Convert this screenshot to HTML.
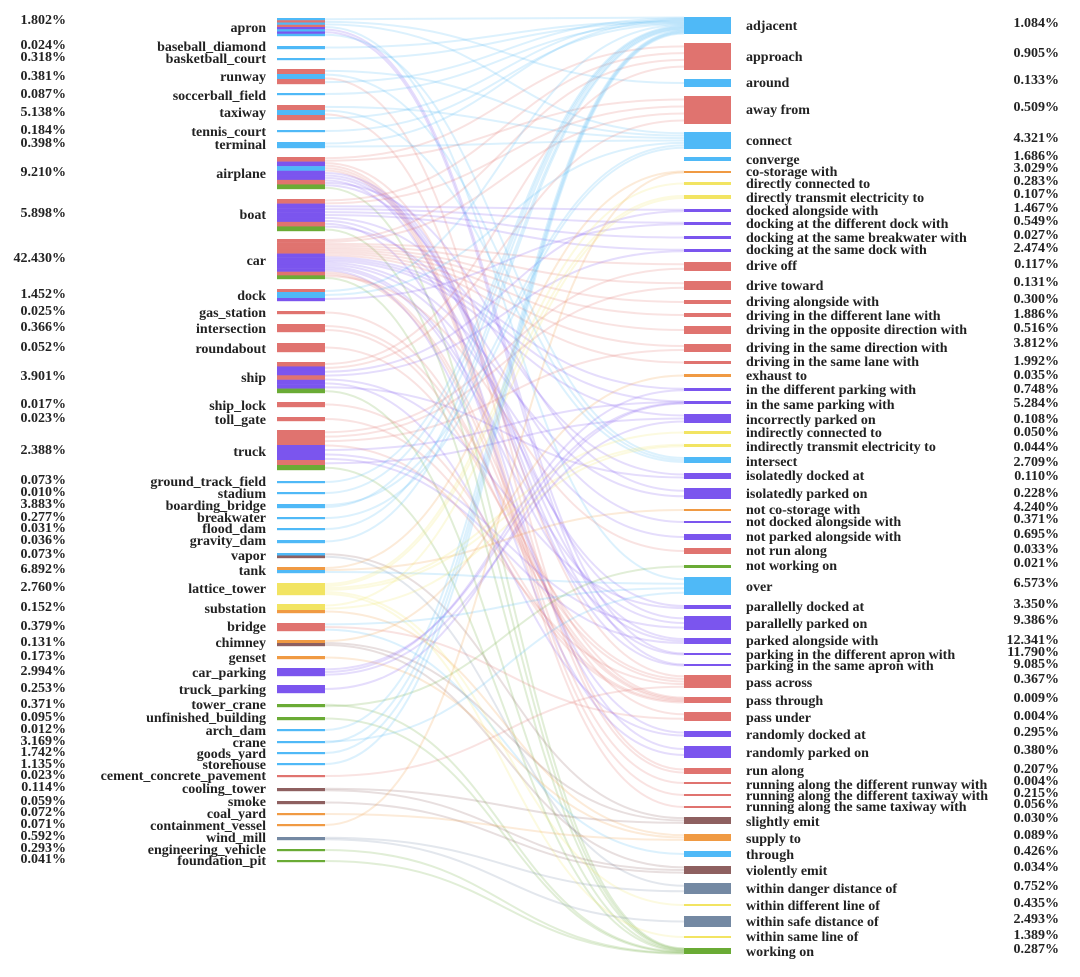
<!DOCTYPE html>
<html><head><meta charset="utf-8"><style>
html,body{margin:0;padding:0;background:#fff;}
svg text{font-family:"Liberation Serif",serif;font-weight:bold;font-size:14px;fill:#222;}
</style></head><body>
<svg id="chart" width="1080" height="972" viewBox="0 0 1080 972">
<g id="links"></g>
<g id="nodes"></g>
</svg>
<script>
const leftNames=["apron","baseball_diamond","basketball_court","runway","soccerball_field","taxiway","tennis_court","terminal","airplane","boat","car","dock","gas_station","intersection","roundabout","ship","ship_lock","toll_gate","truck","ground_track_field","stadium","boarding_bridge","breakwater","flood_dam","gravity_dam","vapor","tank","lattice_tower","substation","bridge","chimney","genset","car_parking","truck_parking","tower_crane","unfinished_building","arch_dam","crane","goods_yard","storehouse","cement_concrete_pavement","cooling_tower","smoke","coal_yard","containment_vessel","wind_mill","engineering_vehicle","foundation_pit"];
const leftPct=["1.802%","0.024%","0.318%","0.381%","0.087%","5.138%","0.184%","0.398%","9.210%","5.898%","42.430%","1.452%","0.025%","0.366%","0.052%","3.901%","0.017%","0.023%","2.388%","0.073%","0.010%","3.883%","0.277%","0.031%","0.036%","0.073%","6.892%","2.760%","0.152%","0.379%","0.131%","0.173%","2.994%","0.253%","0.371%","0.095%","0.012%","3.169%","1.742%","1.135%","0.023%","0.114%","0.059%","0.072%","0.071%","0.592%","0.293%","0.041%"];
const leftTop=[18,46,58,69,93,105,130,142,157,199,239,289,311,324,343,362,402,417,430,481,492,504,517,528,540,553,567,583,604,623,640,656,668,685,704,717,729,741,752,763,775,788,801,813,824,837,849,860];
const leftH=[18,3,2,15,2,15,2,6,32,32,40,12,3,8,9,31,5,4,40,2,2,4,2,2,3,5,6,12,9,8,6,3,8,8,3,3,2,2,2,2,2,3,3,2,2,3,2,2];
const leftLabelY=[28,47,59,77,96,113,132,145,174,215,261,296,313,329,349,378,406,420,452,482,494,506,518,529,541,556,571,589,609,627,643,658,673,690,705,718,731,743,754,765,776,789,802,814,826,838,850,861];
const leftPctY=[20,45,57,76,94,112,130,143,172,213,258,294,311,327,347,376,404,418,450,480,492,504,517,528,540,554,569,587,607,626,642,656,671,688,704,717,729,741,752,764,775,787,801,812,824,836,848,859];
const leftColors=["brbrpbpb","b","b","rbr","b","rbr","b","b","rpbpprg","rpppprg","rrrrppppprg","rbbp","r","r","r","rpprppg","r","r","rrrppprg","b","b","b","b","b","b","bn","ob","y","yyo","r","on","o","p","p","g","g","b","b","b","b","r","n","n","o","o","s","g","g"];
const rightNames=["adjacent","approach","around","away from","connect","converge","co-storage with","directly connected to","directly transmit electricity to","docked alongside with","docking at the different dock with","docking at the same breakwater with","docking at the same dock with","drive off","drive toward","driving alongside with","driving in the different lane with","driving in the opposite direction with","driving in the same direction with","driving in the same lane with","exhaust to","in the different parking with","in the same parking with","incorrectly parked on","indirectly connected to","indirectly transmit electricity to","intersect","isolatedly docked at","isolatedly parked on","not co-storage with","not docked alongside with","not parked alongside with","not run along","not working on","over","parallelly docked at","parallelly parked on","parked alongside with","parking in the different apron with","parking in the same apron with","pass across","pass through","pass under","randomly docked at","randomly parked on","run along","running along the different runway with","running along the different taxiway with","running along the same taxiway with","slightly emit","supply to","through","violently emit","within danger distance of","within different line of","within safe distance of","within same line of","working on"];
const rightPct=["1.084%","0.905%","0.133%","0.509%","4.321%","1.686%","3.029%","0.283%","0.107%","1.467%","0.549%","0.027%","2.474%","0.117%","0.131%","0.300%","1.886%","0.516%","3.812%","1.992%","0.035%","0.748%","5.284%","0.108%","0.050%","0.044%","2.709%","0.110%","0.228%","4.240%","0.371%","0.695%","0.033%","0.021%","6.573%","3.350%","9.386%","12.341%","11.790%","9.085%","0.367%","0.009%","0.004%","0.295%","0.380%","0.207%","0.004%","0.215%","0.056%","0.030%","0.089%","0.426%","0.034%","0.752%","0.435%","2.493%","1.389%","0.287%"];
const rightTop=[17,43,79,96,132,157,171,182,195,209,222,236,249,262,281,300,313,326,344,361,374,388,401,414,431,444,457,473,488,509,521,534,548,565,577,605,616,638,653,664,675,697,712,731,746,768,782,794,806,817,834,851,866,883,904,916,936,948];
const rightH=[17,27,8,28,17,4,2,3,4,3,3,3,3,9,9,4,4,8,8,3,3,3,3,9,3,3,6,6,11,2,2,6,6,3,18,4,14,6,2,2,13,6,9,6,12,6,2,2,2,7,7,6,8,11,2,11,2,6];
const rightLabelY=[26,57,83,110,141,160,172,184,198,211,224,238,250,266,286,302,316,330,348,362,376,390,405,420,433,447,462,476,494,510,522,537,551,566,587,607,624,641,655,666,683,701,718,735,753,771,785,796,807,822,839,855,871,889,906,922,937,952];
const rightPctY=[23,53,80,107,138,156,168,181,194,208,221,235,248,264,282,299,314,328,343,361,375,389,403,419,432,447,462,476,493,507,519,534,549,563,583,604,620,640,652,664,679,698,716,732,750,769,781,793,804,818,835,851,867,886,903,919,935,949];
const rightColors=["b","r","b","r","b","b","o","y","y","p","p","p","p","r","r","r","r","r","r","r","o","p","p","p","y","y","b","p","p","o","p","p","r","g","b","p","p","p","p","p","r","r","r","p","p","r","r","r","r","n","o","b","n","s","y","s","y","g"];
const links=[["apron","adjacent"],["apron","around"],["apron","connect"],["apron","over"],["apron","parking in the different apron with"],["apron","parking in the same apron with"],["apron","intersect"],["runway","connect"],["runway","intersect"],["runway","run along"],["runway","adjacent"],["taxiway","connect"],["taxiway","intersect"],["taxiway","run along"],["taxiway","adjacent"],["terminal","adjacent"],["terminal","connect"],["baseball_diamond","adjacent"],["basketball_court","adjacent"],["soccerball_field","adjacent"],["tennis_court","adjacent"],["airplane","approach"],["airplane","away from"],["airplane","pass across"],["airplane","running along the different runway with"],["airplane","running along the different taxiway with"],["airplane","running along the same taxiway with"],["airplane","parked alongside with"],["airplane","parking in the different apron with"],["airplane","parking in the same apron with"],["airplane","randomly parked on"],["airplane","isolatedly parked on"],["airplane","parallelly parked on"],["airplane","working on"],["boat","approach"],["boat","away from"],["boat","docked alongside with"],["boat","docking at the different dock with"],["boat","docking at the same breakwater with"],["boat","docking at the same dock with"],["boat","isolatedly docked at"],["boat","parallelly docked at"],["boat","randomly docked at"],["boat","not docked alongside with"],["boat","working on"],["car","approach"],["car","away from"],["car","drive off"],["car","drive toward"],["car","driving alongside with"],["car","driving in the different lane with"],["car","driving in the opposite direction with"],["car","driving in the same direction with"],["car","driving in the same lane with"],["car","in the different parking with"],["car","in the same parking with"],["car","incorrectly parked on"],["car","isolatedly parked on"],["car","not parked alongside with"],["car","parallelly parked on"],["car","parked alongside with"],["car","randomly parked on"],["car","pass through"],["car","pass under"],["car","not run along"],["car","working on"],["dock","adjacent"],["dock","connect"],["dock","docking at the different dock with"],["gas_station","pass through"],["intersection","pass across"],["intersection","pass through"],["roundabout","pass across"],["ship","approach"],["ship","away from"],["ship","docked alongside with"],["ship","docking at the same dock with"],["ship","parallelly docked at"],["ship","randomly docked at"],["ship","isolatedly docked at"],["ship","working on"],["ship_lock","pass through"],["toll_gate","pass through"],["truck","drive off"],["truck","drive toward"],["truck","driving in the same direction with"],["truck","pass across"],["truck","in the same parking with"],["truck","parallelly parked on"],["truck","parked alongside with"],["truck","incorrectly parked on"],["truck","working on"],["ground_track_field","adjacent"],["stadium","adjacent"],["boarding_bridge","connect"],["boarding_bridge","adjacent"],["breakwater","connect"],["flood_dam","adjacent"],["gravity_dam","adjacent"],["vapor","slightly emit"],["vapor","within danger distance of"],["tank","co-storage with"],["tank","not co-storage with"],["tank","over"],["lattice_tower","directly connected to"],["lattice_tower","directly transmit electricity to"],["lattice_tower","indirectly connected to"],["lattice_tower","indirectly transmit electricity to"],["lattice_tower","within different line of"],["lattice_tower","within same line of"],["substation","directly transmit electricity to"],["substation","indirectly transmit electricity to"],["substation","supply to"],["bridge","over"],["bridge","pass under"],["bridge","through"],["chimney","exhaust to"],["chimney","slightly emit"],["chimney","violently emit"],["genset","supply to"],["car_parking","in the same parking with"],["car_parking","in the different parking with"],["car_parking","incorrectly parked on"],["truck_parking","in the same parking with"],["tower_crane","working on"],["tower_crane","not working on"],["unfinished_building","working on"],["arch_dam","adjacent"],["crane","over"],["crane","adjacent"],["goods_yard","adjacent"],["storehouse","adjacent"],["cement_concrete_pavement","pass across"],["cooling_tower","slightly emit"],["cooling_tower","violently emit"],["smoke","violently emit"],["coal_yard","supply to"],["containment_vessel","co-storage with"],["wind_mill","within danger distance of"],["wind_mill","within safe distance of"],["engineering_vehicle","working on"],["foundation_pit","working on"]];

const COL={b:"#4fb9f7",r:"#e0736f",p:"#7b55ee",g:"#6aab35",o:"#f09a43",y:"#f2e462",n:"#8e6060",s:"#7489a3"};
const NS="http://www.w3.org/2000/svg";
const LX0=277,LX1=325,RX0=684,RX1=731;
const linkG=document.getElementById('links'),nodeG=document.getElementById('nodes');
function mk(t,a,p){const e=document.createElementNS(NS,t);for(const k in a)e.setAttribute(k,a[k]);p.appendChild(e);return e;}

const outCount={},inCount={},outIdx={},inIdx={};
links.forEach(l=>{outCount[l[0]]=(outCount[l[0]]||0)+1;inCount[l[1]]=(inCount[l[1]]||0)+1;});
links.forEach(l=>{
  const si=leftNames.indexOf(l[0]),ti=rightNames.indexOf(l[1]);
  if(si<0||ti<0)return;
  outIdx[l[0]]=(outIdx[l[0]]||0)+1;inIdx[l[1]]=(inIdx[l[1]]||0)+1;
  const sy=leftTop[si]+leftH[si]*(outIdx[l[0]]-0.5)/outCount[l[0]];
  const ty=rightTop[ti]+rightH[ti]*(inIdx[l[1]]-0.5)/inCount[l[1]];
  const c=COL[rightColors[ti]];const mx=(LX1+RX0)/2;
  const p=mk('path',{d:`M${LX1},${sy} C${mx},${sy} ${mx},${ty} ${RX0},${ty}`,fill:'none',stroke:c,'stroke-width':2,'stroke-opacity':0.2},linkG);
  
  
});

leftNames.forEach((n,i)=>{
  const g=mk('g',{},nodeG);
  
  
  const cs=leftColors[i],k=cs.length,h=leftH[i];
  for(let j=0;j<k;j++){
    mk('rect',{x:LX0,y:leftTop[i]+h*j/k,width:LX1-LX0,height:h/k+0.2,fill:COL[cs[j]]},g);
  }
  const t=mk('text',{x:266,y:leftLabelY[i]+1,'text-anchor':'end','dominant-baseline':'middle'},g);t.textContent=n;
  
  
  const q=mk('text',{x:66,y:leftPctY[i]+1,'text-anchor':'end','dominant-baseline':'middle'},g);q.textContent=leftPct[i];
  
  
});
rightNames.forEach((n,i)=>{
  const g=mk('g',{},nodeG);
  
  
  mk('rect',{x:RX0,y:rightTop[i],width:RX1-RX0,height:rightH[i],fill:COL[rightColors[i]]},g);
  const t=mk('text',{x:746,y:rightLabelY[i]+1,'dominant-baseline':'middle'},g);t.textContent=n;
  
  
  const q=mk('text',{x:1059,y:rightPctY[i]+1,'text-anchor':'end','dominant-baseline':'middle'},g);q.textContent=rightPct[i];
  
  
});
</script>
</body></html>
